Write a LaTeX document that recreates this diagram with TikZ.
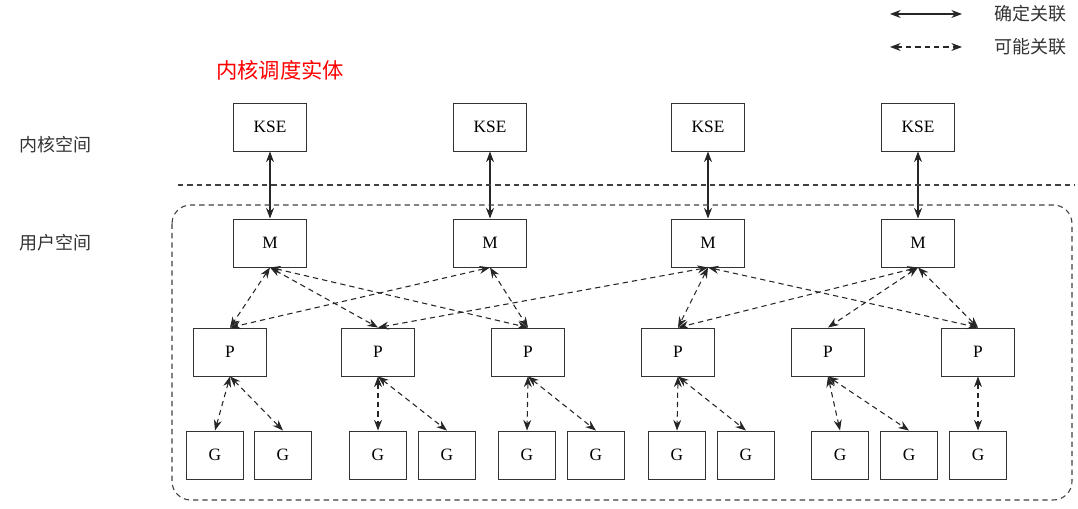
\documentclass[tikz,border=0pt]{standalone}
\usepackage{fontspec}
\setmainfont{Liberation Serif}
\newfontfamily\cjk{Noto Sans CJK SC}
\usetikzlibrary{arrows.meta}
\begin{document}
\begin{tikzpicture}[x=0.75pt,y=-0.75pt,
  box/.style={draw=black!80,line width=0.7pt,minimum width=55pt,minimum height=36pt,inner sep=0pt,font=\fontsize{13pt}{15pt}\selectfont},
  gbox/.style={box,minimum width=43pt},
  sure/.style={{Stealth[length=8pt,width=6pt]}-{Stealth[length=8pt,width=6pt]},line width=0.8pt,black!85},
  maybe/.style={sure,dashed,dash pattern=on 4pt off 3pt},
  lab/.style={font=\cjk\fontsize{13.5pt}{16pt}\selectfont,black!80}]
\useasboundingbox (0,0) rectangle (1078,509);
\foreach \i/\x in {1/270,2/490,3/708,4/918}{
  \node[box] (k\i) at (\x,127) {KSE};
  \node[box] (m\i) at (\x,243) {M};
  \draw[sure] (k\i) -- (m\i);
}
\foreach \i/\x in {1/230,2/378,3/528,4/678,5/828,6/978}
  \node[box] (p\i) at (\x,352) {P};
\foreach \i/\x in {1/215,2/283,3/378,4/447,5/527,6/596,7/677,8/746,9/840,10/909,11/978}
  \node[gbox] (g\i) at (\x,455) {G};
\draw[black!75,line width=0.8pt,dash pattern=on 4pt off 3pt] (178,185) -- (1075,185);
\draw[black!75,line width=0.8pt,dash pattern=on 4pt off 3pt,rounded corners=14pt] (172,205) rectangle (1072,500);
\foreach \a/\b in {m1/p1,m1/p2,m1/p3,m2/p1,m2/p3,m3/p2,m3/p4,m3/p6,m4/p4,m4/p5,m4/p6}
  \draw[maybe] (\a.south) -- (\b.north);
\foreach \a/\b in {p1/g1,p1/g2,p2/g3,p2/g4,p3/g5,p3/g6,p4/g7,p4/g8,p5/g9,p5/g10,p6/g11}
  \draw[maybe] (\a.south) -- (\b.north);
\node[lab] (t1) at (55,145) {内核空间};
\node[lab] (t2) at (55,243) {用户空间};
\node[font=\cjk\fontsize{16pt}{19pt}\selectfont,red] (t3) at (280,70) {内核调度实体};
\coordinate (a1) at (890,14); \coordinate (b1) at (962,14);
\coordinate (a2) at (890,47); \coordinate (b2) at (962,47);
\draw[sure] (a1) -- (b1);
\draw[maybe] (a2) -- (b2);
\node[lab] (l1) at (1030,14) {确定关联};
\node[lab] (l2) at (1030,47) {可能关联};
\end{tikzpicture}
\end{document}
